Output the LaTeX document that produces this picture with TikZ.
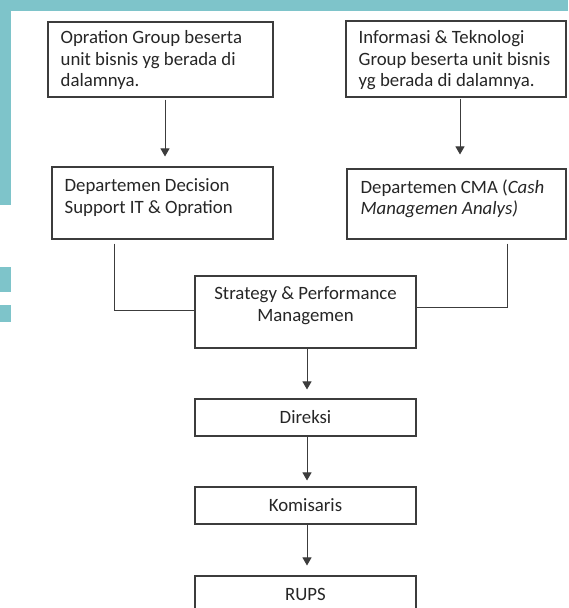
\documentclass[tikz,border=0pt]{standalone}
\usepackage{fontspec}
\setmainfont{Carlito}
\usetikzlibrary{arrows.meta, positioning}
\definecolor{tealbg}{HTML}{7EC4CA}
\definecolor{edgegray}{HTML}{3C3C3C}

\begin{document}
\begin{tikzpicture}[x=1pt, y=-1pt,
                >={Triangle[width=9pt,length=8pt]}]
            \tikzstyle{every node}=[font=\fontsize{18.8}{21.6}\selectfont, text=black!85]
            \tikzstyle{unitbox}=[draw=edgegray, line width=1.1pt, rectangle, inner sep=0pt, minimum width=221pt]
            \tikzstyle{boxtext}=[anchor=north west, inner sep=0pt, align=left]
            \tikzstyle{link}=[draw=edgegray, line width=0.9pt]
            \clip (0,0) rectangle (568,608);
            % background
            \fill[white] (0,0) rectangle (568,608);
            \fill[tealbg] (0,0) rectangle (568,11);
            \fill[tealbg] (0,0) rectangle (11,205);
            \fill[tealbg] (0,267) rectangle (11,292);
            \fill[tealbg] (0,305) rectangle (11,322);
            % group boxes
            \node[unitbox, minimum width=225pt, minimum height=75pt] (opsgroup) at (160.5,59.5) {};
            \node[boxtext] (opsgroup-text) at ([xshift=13pt,yshift=-9pt]opsgroup.north west) {Opration Group beserta\\unit bisnis yg berada di\\dalamnya.};
            \node[unitbox, minimum width=220pt, minimum height=76pt] (itgroup) at (456,59) {};
            \node[boxtext] (itgroup-text) at ([xshift=13pt,yshift=-10pt]itgroup.north west) {Informasi \& Teknologi\\Group beserta unit bisnis\\yg berada di dalamnya.};
            % departments
            \node[unitbox, minimum height=72pt] (deptops) at (162.5,203) {};
            \node[boxtext] (deptops-text) at ([xshift=13pt,yshift=-12pt]deptops.north west) {Departemen Decision\\Support IT \& Opration};
            \node[unitbox, minimum width=219pt, minimum height=70pt] (deptcma) at (456.5,204) {};
            \node[boxtext] (deptcma-text) at ([xshift=14pt,yshift=-11pt]deptcma.north west) {Departemen CMA (\textit{Cash}\\\textit{Managemen Analys)}};
            % chain
            \node[unitbox, minimum height=72pt] (strategy) at (305.5,312) {};
            \node[anchor=north, inner sep=0pt, align=center] (strategy-text) at ([yshift=-11pt]strategy.north) {Strategy \& Performance\\Managemen};
            \node[unitbox, minimum height=37pt] (direksi) at (305.5,417.5) {Direksi};
            \node[unitbox, minimum height=37pt] (komisaris) at (305.5,505.5) {Komisaris};
            \node[unitbox, minimum height=37pt] (rups) at (305.5,594.5) {RUPS};

            \draw[link, ->, shorten <=2pt, shorten >=10pt] ([xshift=4.5pt]opsgroup.south) -- ([xshift=2.5pt]deptops.north);
            \draw[link, ->, shorten <=1pt, shorten >=14pt] ([xshift=4pt]itgroup.south) -- ([xshift=3.5pt]deptcma.north);
            \draw[link, shorten <=4pt] ([xshift=-48.5pt]deptops.south) |- ([yshift=2pt]strategy.west);
            \draw[link, shorten <=4pt] ([xshift=50.5pt]deptcma.south) |- ([yshift=5pt]strategy.east);
            \draw[link, ->, shorten >=9pt] ([xshift=1.5pt]strategy.south) -- ([xshift=1.5pt]direksi.north);
            \draw[link, ->, shorten >=6pt] ([xshift=1.5pt]direksi.south) -- ([xshift=1.5pt]komisaris.north);
            \draw[link, ->, shorten >=10pt] ([xshift=1.5pt]komisaris.south) -- ([xshift=1.5pt]rups.north);
        \end{tikzpicture}
\end{document}
